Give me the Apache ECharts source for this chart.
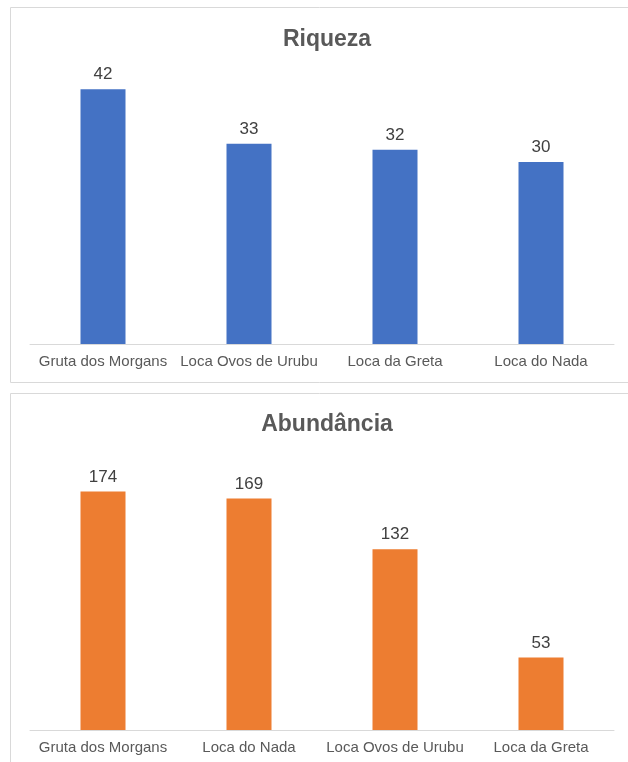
<!DOCTYPE html>
<html><head><meta charset="utf-8">
<script src="https://cdn.jsdelivr.net/npm/echarts@6/dist/echarts.min.js"></script>
<style>html,body{margin:0;padding:0;background:#fff}#c{width:628px;height:762px}</style>
</head><body><div id="c"></div>
<script>
const riquezaCategories = ['Gruta dos Morgans', 'Loca Ovos de Urubu', 'Loca da Greta', 'Loca do Nada'];
const riquezaValues = [42, 33, 32, 30];
const abundanciaCategories = ['Gruta dos Morgans', 'Loca do Nada', 'Loca Ovos de Urubu', 'Loca da Greta'];
const abundanciaValues = [174, 169, 132, 53];

const font = 'Liberation Sans, Arial, sans-serif';
const chart = echarts.init(document.getElementById('c'));
const catAxis = (idx, data) => ({
  type: 'category', gridIndex: idx, data: data,
  axisLine: {lineStyle: {color: '#d9d9d9', width: 1}},
  axisTick: {show: false},
  axisLabel: {color: '#595959', fontSize: 15, fontFamily: font, margin: 10, interval: 0}
});
const valAxis = (idx, max) => ({
  type: 'value', gridIndex: idx, min: 0, max: max, show: false
});
const barSeries = (idx, data, color) => ({
  type: 'bar', xAxisIndex: idx, yAxisIndex: idx, data: data, barWidth: 45,
  itemStyle: {color: color},
  label: {show: true, position: 'top', color: '#404040', fontSize: 17, fontFamily: font, distance: 6},
  animation: false
});
chart.setOption({
  animation: false,
  graphic: [
    {type: 'rect', shape: {x: 10.5, y: 7.5, width: 640, height: 375}, style: {fill: 'none', stroke: '#d9d9d9', lineWidth: 1}, z: -1},
    {type: 'rect', shape: {x: 10.5, y: 393.5, width: 640, height: 400}, style: {fill: 'none', stroke: '#d9d9d9', lineWidth: 1}, z: -1}
  ],
  title: [
    {text: 'Riqueza', left: 322, top: 23, textAlign: 'center', textStyle: {fontSize: 23, fontWeight: 'bold', color: '#595959', fontFamily: font}},
    {text: 'Abundância', left: 322, top: 408, textAlign: 'center', textStyle: {fontSize: 23, fontWeight: 'bold', color: '#595959', fontFamily: font}}
  ],
  grid: [
    {left: 30, right: 14, top: 71, height: 273},
    {left: 30, right: 14, top: 456, height: 274}
  ],
  xAxis: [catAxis(0, riquezaCategories), catAxis(1, abundanciaCategories)],
  yAxis: [valAxis(0, 45), valAxis(1, 200)],
  series: [barSeries(0, riquezaValues, '#4472c4'), barSeries(1, abundanciaValues, '#ed7d31')]
});
</script></body></html>
